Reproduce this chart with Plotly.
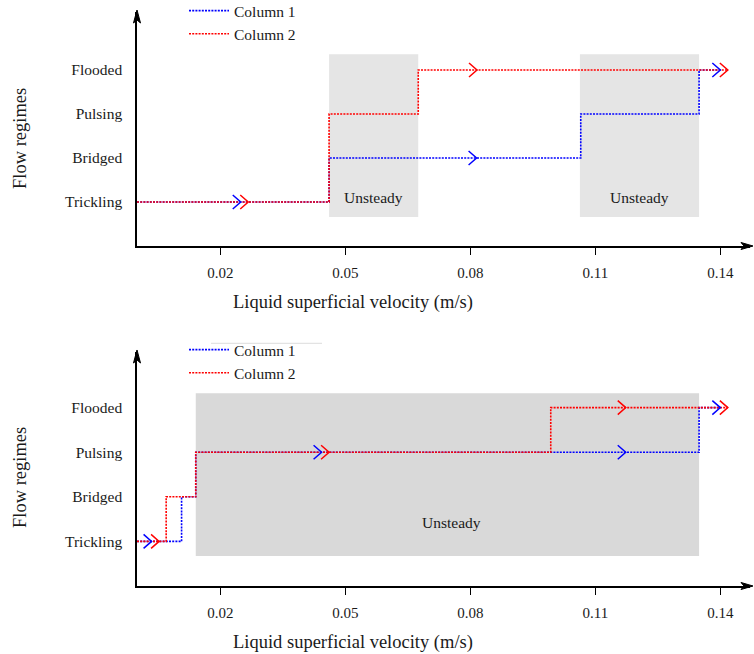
import plotly.graph_objects as go

# ---- data -------------------------------------------------------------
regimes = ["Trickling", "Bridged", "Pulsing", "Flooded"]
regime_levels = [1, 2, 3, 4]
x_ticks = [0.02, 0.05, 0.08, 0.11, 0.14]
x_tick_text = ["0.02", "0.05", "0.08", "0.11", "0.14"]

# top panel: regime transitions (x where a regime starts, regime level)
top_c1_x = [0.0, 0.0461, 0.1065, 0.1349, 0.1400]
top_c1_y = [1, 2, 3, 4, 4]
top_c2_x = [0.0, 0.0461, 0.0675, 0.1418]
top_c2_y = [1, 3, 4, 4]
top_unsteady = [(0.0461, 0.0675), (0.1063, 0.1349)]
top_c1_arrows_x = [0.0249, 0.0815, 0.1400]
top_c1_arrows_y = [1, 2, 4]
top_c2_arrows_x = [0.0267, 0.0816, 0.1418]
top_c2_arrows_y = [1, 4, 4]

# bottom panel
bot_c1_x = [0.0, 0.0107, 0.0141, 0.1349, 0.1400]
bot_c1_y = [1, 2, 3, 4, 4]
bot_c2_x = [0.0, 0.0070, 0.0141, 0.0993, 0.1418]
bot_c2_y = [1, 2, 3, 4, 4]
bot_unsteady = [(0.0141, 0.1349)]
bot_c1_arrows_x = [0.0035, 0.0443, 0.1173, 0.1400]
bot_c1_arrows_y = [1, 3, 3, 4]
bot_c2_arrows_x = [0.0053, 0.0461, 0.1173, 0.1418]
bot_c2_arrows_y = [1, 3, 4, 4]

# ---- geometry ---------------------------------------------------------
W, H = 754, 654
ML, MR, MT, MB = 137, 4, 12, 68
PW, PH = W - ML - MR, H - MT - MB          # plot area in px
X_MAX = 0.14712
TOP_PX = (12.0, 246.0)                      # panel top / bottom in px
BOT_PX = (352.0, 586.0)
TOP_YMAX, BOT_YMAX = 5.318, 5.247

def dom(px):
    lo = (H - MB - px[1]) / PH
    hi = (H - MB - px[0]) / PH
    return [max(0.0, min(1.0, lo)), max(0.0, min(1.0, hi))]

def paper(px, py):
    return (px - ML) / PW, (H - MB - py) / PH

SERIF = "Liberation Serif"
INK = "#1a1a1a"
BLUE, RED = "#0000ff", "#ff0000"
DOT = "2px,1.2px"

fig = go.Figure()

def chevrons(xs, ys, ymax, panel_px):
    """open '>' heads along the flow direction, sized in pixels"""
    dx = 8.0 * X_MAX / PW
    dy = 7.0 * ymax / (panel_px[1] - panel_px[0])
    cx, cy = [], []
    for x, y in zip(xs, ys):
        cx += [x - dx, x, x - dx, None]
        cy += [y + dy, y, y - dy, None]
    return cx, cy

panels = [
    ("x", "y", "legend", TOP_YMAX, TOP_PX,
     (top_c1_x, top_c1_y, top_c1_arrows_x, top_c1_arrows_y),
     (top_c2_x, top_c2_y, top_c2_arrows_x, top_c2_arrows_y)),
    ("x2", "y2", "legend2", BOT_YMAX, BOT_PX,
     (bot_c1_x, bot_c1_y, bot_c1_arrows_x, bot_c1_arrows_y),
     (bot_c2_x, bot_c2_y, bot_c2_arrows_x, bot_c2_arrows_y)),
]

for xa, ya, leg, ymax, ppx, c1, c2 in panels:
    for name, color, (sx, sy, ax_, ay_) in (("Column 1", BLUE, c1), ("Column 2", RED, c2)):
        fig.add_trace(go.Scatter(
            x=sx, y=sy, mode="lines", line_shape="hv", name=name,
            line=dict(color=color, width=1.6, dash=DOT),
            xaxis=xa, yaxis=ya, legend=leg, hoverinfo="skip"))
    for color, (sx, sy, ax_, ay_) in ((BLUE, c1), (RED, c2)):
        cx, cy = chevrons(ax_, ay_, ymax, ppx)
        fig.add_trace(go.Scatter(
            x=cx, y=cy, mode="lines", showlegend=False,
            line=dict(color=color, width=1.5),
            xaxis=xa, yaxis=ya, hoverinfo="skip"))

shapes = []
annotations = []

def label(x, y, text, size, xref="paper", yref="paper", angle=0):
    return dict(xref=xref, yref=yref, x=x, y=y, text=text, textangle=angle,
                showarrow=False, xanchor="center", yanchor="middle",
                font=dict(family=SERIF, size=size, color=INK))

# unsteady regions
for x0, x1 in top_unsteady:
    shapes.append(dict(type="rect", xref="x", yref="y", x0=x0, x1=x1, y0=0.66, y1=4.36,
                       fillcolor="#e5e5e5", line_width=0, layer="below"))
    annotations.append(label((x0 + x1) / 2, 1.1, "Unsteady", 15.5, "x", "y"))
for x0, x1 in bot_unsteady:
    shapes.append(dict(type="rect", xref="x2", yref="y2", x0=x0, x1=x1, y0=0.67, y1=4.32,
                       fillcolor="#d9d9d9", line_width=0, layer="below"))
    annotations.append(label(0.0755, 1.42, "Unsteady", 15.5, "x2", "y2"))

# arrow heads at the axis ends
def head(tip, back, half, vertical):
    tx, ty = tip
    if vertical:
        pts = [(tx, ty), (tx - half, ty + back), (tx, ty + back - 3), (tx + half, ty + back)]
    else:
        pts = [(tx, ty), (tx - back, ty - half), (tx - back + 3, ty), (tx - back, ty + half)]
    path = "M " + " L ".join("%.5f,%.5f" % paper(px, py) for px, py in pts) + " Z"
    return dict(type="path", xref="paper", yref="paper", path=path,
                fillcolor="black", line=dict(color="black", width=1))

for top_px, bot_px in (TOP_PX, BOT_PX):
    shapes.append(head((ML, top_px - 2), 13, 3.5, True))
    shapes.append(head((753, bot_px), 12, 3.5, False))

# faint rule above the lower legend
lx0, ly = paper(211, 343.3)
lx1, _ = paper(322, 343.3)
shapes.append(dict(type="line", xref="paper", yref="paper", x0=lx0, x1=lx1, y0=ly, y1=ly,
                   line=dict(color="#dcdcdc", width=1)))

# axis titles
for (t0, t1), yc in ((TOP_PX, 139), (BOT_PX, 478)):
    xx, yy = paper(20, yc)
    annotations.append(label(xx, yy, "Flow regimes", 18.5, angle=-90))
    xx, yy = paper(353, t1 + 56)
    annotations.append(label(xx, yy, "Liquid superficial velocity (m/s)", 18.5))

axis_common = dict(showgrid=False, zeroline=False, showline=True, linecolor="black",
                   linewidth=1.5, tickfont=dict(family=SERIF, size=15, color=INK))
xaxis = dict(axis_common, range=[0, X_MAX], tickvals=x_ticks, ticktext=x_tick_text,
             ticks="outside", ticklen=7, tickwidth=1.3, tickcolor="black",
             ticklabelstandoff=5)
yaxis = dict(axis_common, tickvals=regime_levels, ticktext=regimes, ticks="",
             ticklabelstandoff=10, tickfont=dict(family=SERIF, size=15.5, color=INK))

lg1x, lg1y = paper(184, -6)
lg2x, lg2y = paper(184, 333)
legend_style = dict(bgcolor="rgba(0,0,0,0)", borderwidth=0, xanchor="left", yanchor="top",
                    itemwidth=40, font=dict(family=SERIF, size=15.5, color=INK),
                    tracegroupgap=0)

fig.update_layout(
    width=W, height=H, margin=dict(l=ML, r=MR, t=MT, b=MB, autoexpand=False),
    paper_bgcolor="white", plot_bgcolor="white",
    xaxis=dict(xaxis, domain=[0, 1], anchor="y"),
    yaxis=dict(yaxis, domain=dom(TOP_PX), range=[0, TOP_YMAX], anchor="x"),
    xaxis2=dict(xaxis, domain=[0, 1], anchor="y2"),
    yaxis2=dict(yaxis, domain=dom(BOT_PX), range=[0, BOT_YMAX], anchor="x2"),
    legend=dict(legend_style, x=lg1x, y=lg1y),
    legend2=dict(legend_style, x=lg2x, y=lg2y),
    shapes=shapes, annotations=annotations,
)

fig.write_html("out.html")
